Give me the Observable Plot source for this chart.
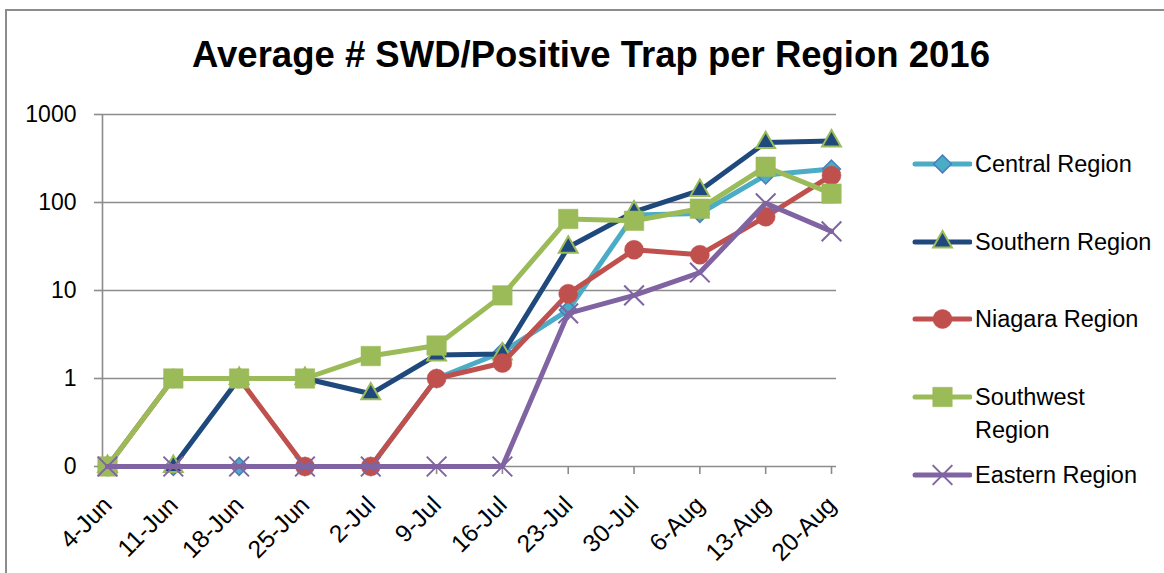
<!DOCTYPE html>
<html><head><meta charset="utf-8">
<script src="https://cdn.jsdelivr.net/npm/d3@7"></script>
<script src="https://cdn.jsdelivr.net/npm/@observablehq/plot@0.6"></script>
<style>
body{margin:0;background:#fff;font-family:"Liberation Sans",Arial,sans-serif;}
#wrap{position:relative;width:1164px;height:573px;overflow:hidden;background:#fff;}
#frame{position:absolute;left:5px;top:9px;width:1220px;height:620px;border:2px solid #8c8c8c;box-sizing:border-box;}
#title{position:absolute;left:0;width:1182px;top:37px;line-height:36px;text-align:center;font-weight:bold;font-size:36.5px;color:#000;}
#chart{position:absolute;left:0;top:0;}
.leg{position:absolute;left:912px;display:flex;align-items:flex-start;}
.leg svg{flex:none;margin-top:1.5px;}
.leg span{display:block;width:180px;margin-left:3px;font-size:23.5px;line-height:33px;color:#000;}
</style></head>
<body><div id="wrap"><div id="frame"></div><div id="title">Average # SWD/Positive Trap per Region 2016</div><div id="chart"></div><div id="legend"></div></div>
<script>
const dates = ["4-Jun","11-Jun","18-Jun","25-Jun","2-Jul","9-Jul","16-Jul","23-Jul","30-Jul","6-Aug","13-Aug","20-Aug"];
const central   = [0, 0, 0, 0, 0, 1, 2.0, 6.0, 72, 75, 205, 240];
const southern  = [0, 0, 1, 1, 0.67, 1.85, 1.9, 31, 78, 137, 480, 500];
const niagara   = [0, 1, 1, 0, 0, 1, 1.5, 9.2, 29, 25.5, 69, 203];
const southwest = [0, 1, 1, 1, 1.8, 2.37, 8.8, 65, 62, 85, 255, 126];
const eastern   = [0, 0, 0, 0, 0, 0, 0, 5.5, 8.8, 16, 98, 47];
const seriesNames = ["Central Region","Southern Region","Niagara Region","Southwest Region","Eastern Region"];
const yTicks = [0.1, 1, 10, 100, 1000];
const yTickLabels = ["0", "1", "10", "100", "1000"];

const styles = [
  {line:"#4BACC6", symbol:"diamond2", d3sym:d3.symbolDiamond2, r:8, fill:"#4BACC6", stroke:"#4A7EBB", sw:1.5},
  {line:"#1F497D", symbol:"triangle", d3sym:d3.symbolTriangle, r:7, fill:"#1F497D", stroke:"#9BBB59", sw:2},
  {line:"#C0504D", symbol:"circle", d3sym:d3.symbolCircle, r:9.5, fill:"#C0504D", stroke:"#C0504D", sw:0.5},
  {line:"#9BBB59", symbol:"square", d3sym:d3.symbolSquare, r:11, fill:"#9BBB59", stroke:"#9BBB59", sw:0.5},
  {line:"#8064A2", symbol:"times", d3sym:d3.symbolTimes, r:9, fill:"none", stroke:"#8064A2", sw:2}
];
const allSeries = [central, southern, niagara, southwest, eastern];
const floor = yTicks[0];
const idx = dates.map((d, i) => i);
const pad = 0.076;

const marks = [
  Plot.ruleY(yTicks, {stroke:"#8c8c8c", strokeWidth:1.6}),
  Plot.ruleX([-pad], {stroke:"#8c8c8c", strokeWidth:1.6}),
  Plot.axisY({ticks:yTicks, tickFormat:(d) => yTickLabels[yTicks.indexOf(d)], tickSize:8, tickPadding:18, fontSize:23, stroke:"#8c8c8c", strokeWidth:1.6, fill:"#000", label:null}),
  Plot.axisX({ticks:idx, tickFormat:() => "", tickSize:8, stroke:"#8c8c8c", strokeWidth:1.6, label:null}),
  Plot.text(idx, {x:(d) => d, frameAnchor:"bottom", text:(i) => dates[i], rotate:-45, textAnchor:"end", lineAnchor:"bottom", dx:6, dy:40, fontSize:24.5, fill:"#000"})
];
allSeries.forEach((vals, s) => {
  const st = styles[s];
  const data = vals.map((v, i) => ({i, v: Math.max(v, floor)}));
  marks.push(Plot.line(data, {x:"i", y:"v", stroke:st.line, strokeWidth:5, strokeLinejoin:"round", strokeLinecap:"round"}));
  marks.push(Plot.dot(data, {x:"i", y:"v", symbol:() => st.symbol, r:st.r, fill:st.fill, stroke:st.stroke, strokeWidth:st.sw}));
});

const chart = Plot.plot({
  width:1164, height:573,
  marginLeft:102, marginRight:328, marginTop:114, marginBottom:107,
  x:{type:"linear", domain:[-pad, dates.length - 1 + pad], label:null},
  y:{type:"log", domain:[yTicks[0], yTicks[yTicks.length-1]], label:null},
  symbol:{type:"identity"},
  style:{fontFamily:"'Liberation Sans', Arial, sans-serif", background:"transparent", overflow:"visible"},
  marks
});
document.getElementById("chart").appendChild(chart);

const legendCenters = [164, 242, 319, 397, 475];
const leg = d3.select("#legend");
seriesNames.forEach((name, s) => {
  const st = styles[s];
  const item = leg.append("div").attr("class", "leg").style("top", (legendCenters[s] - 16.5) + "px");
  const svg = item.append("svg").attr("width", 60).attr("height", 30);
  svg.append("line").attr("x1", 3).attr("x2", 58).attr("y1", 15).attr("y2", 15)
    .attr("stroke", st.line).attr("stroke-width", 5).attr("stroke-linecap", "round");
  svg.append("path").attr("transform", "translate(30.5,15)")
    .attr("d", d3.symbol(st.d3sym, Math.PI * st.r * st.r)())
    .attr("fill", st.fill).attr("stroke", st.stroke).attr("stroke-width", st.sw);
  item.append("span").text(name);
});
</script>
</body></html>
